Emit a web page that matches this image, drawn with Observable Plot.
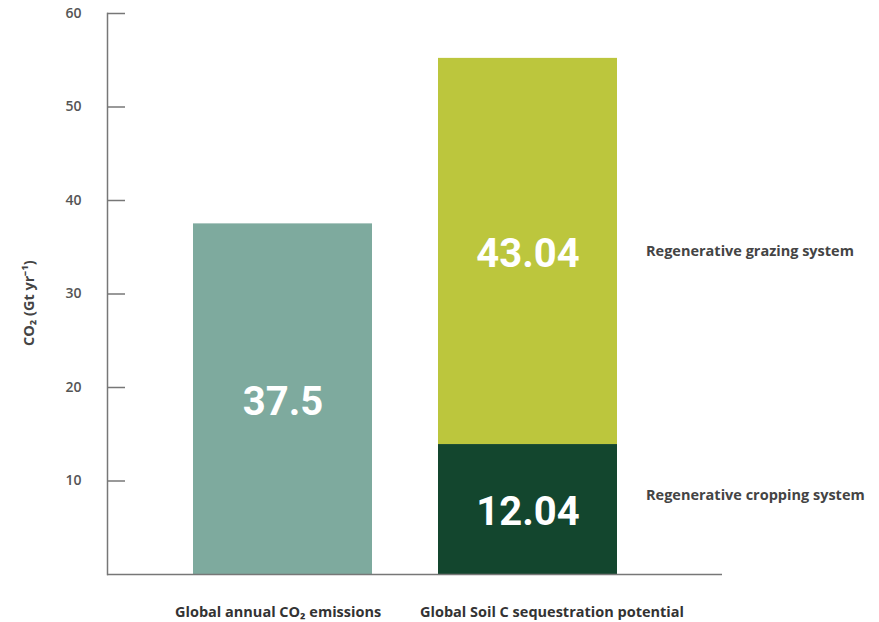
<!DOCTYPE html>
<html><head><meta charset="utf-8">
<script src="https://cdn.jsdelivr.net/npm/d3@7"></script>
<script src="https://cdn.jsdelivr.net/npm/@observablehq/plot@0.6"></script>
<style>body{margin:0;background:#fff;} #chart svg{display:block}</style>
</head><body><div id="chart"></div>
<script>
const categories = ["Global annual CO₂ emissions", "Global Soil C sequestration potential"];
const segments = ["Global annual CO₂ emissions", "Regenerative cropping system", "Regenerative grazing system"];
const segmentCategory = [categories[0], categories[1], categories[1]];
const segmentValues = [37.5, 13.9, 41.3];
const segmentLabels = ["37.5", "12.04", "43.04"];
const segmentColors = ["#7eaa9e", "#13462e", "#bcc63d"];
const yTicks = [10, 20, 30, 40, 50, 60];
const yLabel = "CO₂ (Gt yr⁻¹)";

const rows = segments.map((s, i) => ({
  segment: s, category: segmentCategory[i], value: segmentValues[i],
  label: segmentLabels[i], color: segmentColors[i]
}));

const font = "'Open Sans', sans-serif";
const chart = Plot.plot({
  width: 879, height: 622,
  marginLeft: 107, marginRight: 157, marginTop: 13, marginBottom: 48,
  style: {fontFamily: font, background: "#fff"},
  x: {domain: categories, paddingInner: 0.27, paddingOuter: 0.39, align: 0.45, axis: null},
  y: {domain: [0, 60], axis: null},
  color: {type: "identity"},
  marks: [
    Plot.barY(rows, Plot.stackY({x: "category", y: "value", fill: "color"})),
    Plot.text(rows, Plot.stackY({x: "category", y: "value", text: "label", fill: "#fff",
      fontSize: 40, fontWeight: 700, fontFamily: "Roboto, sans-serif", dy: 3})),
    Plot.text(rows, Plot.stackY({x: "category", y: "value",
      text: d => d.segment === "Regenerative grazing system" ? d.segment : null,
      textAnchor: "start", dx: 118, fill: "#444", fontSize: 14.5, fontWeight: 700})),
    Plot.text(rows, Plot.stackY({x: "category", y: "value",
      text: d => d.segment === "Regenerative cropping system" ? d.segment : null,
      textAnchor: "start", dx: 118, dy: -14, fill: "#444", fontSize: 14.5, fontWeight: 700})),
    Plot.text(categories, {x: d => d, frameAnchor: "bottom", textAnchor: "start", dx: -108, dy: 42,
      fill: "#333", fontSize: 14.5, fontWeight: 700}),
    Plot.tickY(yTicks, {y: d => d, stroke: "#777", strokeWidth: 1.5, insetRight: 597}),
    Plot.axisY(yTicks, {tickSize: 0, tickPadding: 26, fontSize: 14, fill: "#555", fontWeight: 600, label: null}),
    Plot.text([yLabel], {frameAnchor: "left", rotate: -90, dx: -78, dy: 52, fill: "#444",
      fontSize: 14.5, fontWeight: 700}),
    Plot.ruleY([0], {stroke: "#777", strokeWidth: 1.5}),
    Plot.frame({anchor: "left", stroke: "#777", strokeWidth: 1.5})
  ]
});
document.getElementById("chart").append(chart);
</script></body></html>
